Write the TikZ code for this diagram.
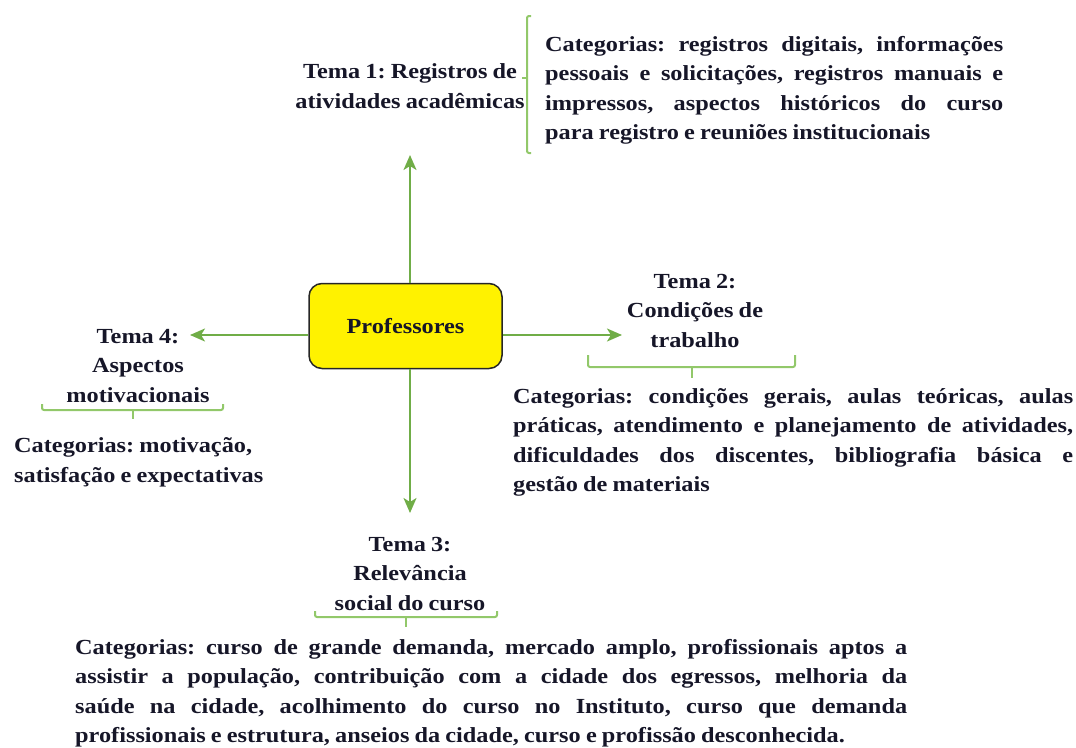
\documentclass[tikz,border=0pt]{standalone}
\usepackage{fontspec}
\setmainfont{Liberation Serif}[FakeStretch=1.13,WordSpace=0.85]
\usetikzlibrary{arrows.meta}
\definecolor{ink}{RGB}{22,22,40}
\definecolor{leaf}{RGB}{112,173,71}
\definecolor{brace}{RGB}{146,200,106}
\hyphenpenalty=10000
\exhyphenpenalty=10000
\tolerance=9999
\frenchspacing
\begin{document}
\begin{tikzpicture}[x=1pt,y=-1pt,
  txt/.style={inner sep=0pt, text=ink, font=\bfseries\fontsize{21.5}{29.5}\selectfont},
  theme/.style={txt, align=center, anchor=base},
  cats/.style={txt, align=justify, anchor=base west},
  link/.style={draw=leaf, line width=2pt, -{Stealth[length=15pt,width=13pt,inset=4pt]}},
  bracket/.style={draw=brace, line width=2pt, rounded corners=2pt},
]
\useasboundingbox (0,0) rectangle (1076,747);

% central node
\node[draw=black!85, line width=1.5pt, fill=yellow, rounded corners=13pt,
      minimum width=193pt, minimum height=85pt, text=ink,
      font=\bfseries\fontsize{21.5}{26}\selectfont] (prof) at (405.5,326) {Professores};

% themes (base anchor sits on the last line)
\node[theme] (t1) at (410,108) {Tema 1: Registros de\\atividades acadêmicas};
\node[theme] (t2) at (695,347) {Tema 2:\\Condições de\\trabalho};
\node[theme] (t3) at (410,610) {Tema 3:\\Relevância\\social do curso};
\node[theme] (t4) at (138,402) {Tema 4:\\Aspectos\\motivacionais};

% arrow tips
\coordinate (up) at (410,155);
\coordinate (dn) at (410,513);
\coordinate (rt) at (622,335);
\coordinate (lt) at (190,335);
\draw[link] (prof.north -| up) -- (up);
\draw[link] (prof.south -| dn) -- (dn);
\draw[link] (prof.east |- rt) -- (rt);
\draw[link] (prof.west |- lt) -- (lt);

% category texts
\node[cats, text width=458pt] (c1) at (545,51) {Categorias: registros digitais, informações\linebreak pessoais e solicitações, registros manuais e\linebreak impressos, aspectos históricos do curso\linebreak para registro e reuniões institucionais};
\node[cats, text width=560pt] (c2) at (513,403) {Categorias: condições gerais, aulas teóricas, aulas\linebreak práticas, atendimento e planejamento de atividades,\linebreak dificuldades dos discentes, bibliografia básica e\linebreak gestão de materiais};
\node[cats, text width=832pt] (c3) at (75,654) {Categorias: curso de grande demanda, mercado amplo, profissionais aptos a\linebreak assistir a população, contribuição com a cidade dos egressos, melhoria da\linebreak saúde na cidade, acolhimento do curso no Instituto, curso que demanda\linebreak profissionais e estrutura, anseios da cidade, curso e profissão desconhecida.};
\node[txt, align=left, anchor=base west] (c4) at (14,482) {Categorias: motivação,\\satisfação e expectativas};

% brackets
\draw[bracket] (531,16) -- (527,16) -- (527,153) -- (531,153);
\draw[bracket] (527,78) -- (522,78);
\draw[bracket] (588,355) -- (588,367) -- (795,367) -- (795,355);
\draw[bracket] (692,367) -- (692,378);
\draw[bracket] (315,611) -- (315,617) -- (497,617) -- (497,611);
\draw[bracket] (406,617) -- (406,627);
\draw[bracket] (42,404) -- (42,410) -- (223,410) -- (223,404);
\draw[bracket] (133,410) -- (133,419);
\end{tikzpicture}
\end{document}
